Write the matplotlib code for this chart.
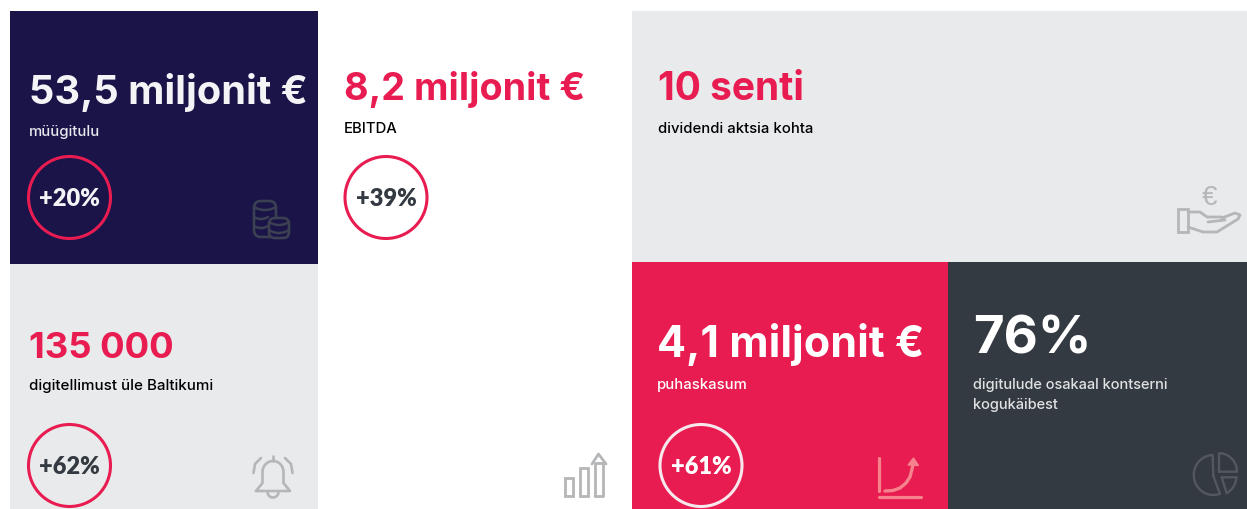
import numpy as np
import matplotlib
matplotlib.use('Agg')
import matplotlib.pyplot as plt
from matplotlib.patches import Rectangle, Circle, FancyBboxPatch

# text and values
headlines = ['53,5 miljonit €', '8,2 miljonit €', '10 senti', '135 000', '4,1 miljonit €', '76%']
captions = ['müügitulu', 'EBITDA', 'dividendi aktsia kohta', 'digitellimust üle Baltikumi', 'puhaskasum',
            'digitulude osakaal kontserni\nkogukäibest']
changes = ['+20%', '+39%', '+62%', '+61%']

NAVY = '#1a1449'
GREY = '#e9eaec'
RED = '#e81c50'
DARK = '#343a41'
INK = '#343a41'

plt.rcParams['font.family'] = ['Inter', 'DejaVu Sans']

fig = plt.figure(figsize=(12.47, 5.09), dpi=100)
ax = fig.add_axes([0, 0, 1, 1])
ax.set_xlim(0, 1247)
ax.set_ylim(509, 0)
ax.axis('off')


def panel(x0, y0, x1, y1, color):
    ax.add_patch(Rectangle((x0, y0), x1 - x0, y1 - y0, fc=color, ec='none', zorder=1))


def big(x, y, s, color, size):
    ax.text(x, y, s, color=color, fontsize=size, fontweight='bold', va='center', ha='left', zorder=3)


def small(x, y, s, color, size=10.7):
    ax.text(x, y, s, color=color, fontsize=size, fontweight='medium', va='center', ha='left',
            linespacing=1.5, zorder=3)


def badge(cx, cy, s, ring, color):
    ax.add_patch(Circle((cx, cy), 41, fc='none', ec=ring, lw=2.2, zorder=3))
    ax.text(cx, cy + 1.5, s, color=color, fontsize=17, fontweight=800, ha='center', va='center',
            family=['Lato', 'DejaVu Sans'], zorder=3)


def line(xs, ys, color, lw=1.7):
    ax.plot(xs, ys, color=color, lw=lw, solid_capstyle='round', solid_joinstyle='round', zorder=4)


def sag(x0, x1, y, color, depth=3):
    # one curved rim of a coin
    u = np.linspace(-1, 1, 20)
    line((x0 + x1) / 2 + (x1 - x0) / 2 * u, y + depth * (1 - u ** 2), color, 1.8)


def coins(color):
    # tall stack and the short one in front of it
    ax.add_patch(FancyBboxPatch((261, 208), 8, 22, boxstyle='round,pad=7,rounding_size=7',
                                fc=NAVY, ec=color, lw=1.9, zorder=3))
    sag(254, 276, 207, color)
    sag(254, 268, 217, color, 2)
    sag(254, 268, 226, color, 2)
    ax.add_patch(FancyBboxPatch((275, 224), 8, 8, boxstyle='round,pad=6,rounding_size=6',
                                fc=NAVY, ec=color, lw=1.9, zorder=4))
    sag(269, 289, 222, color, 3)
    sag(269, 289, 230, color, 3)


def bell(color):
    th = np.linspace(np.pi, 0, 30)
    dome_x = 273 + 10.5 * np.cos(th)
    dome_y = 472 + 11 * -np.sin(th)
    line(np.r_[256, 262.5, dome_x, 283.5, 290, 256],
         np.r_[491, 483, dome_y, 483, 491, 491], color, 1.9)
    line([273, 273], [456, 461], color, 1.9)
    th = np.linspace(0, np.pi, 15)
    line(273 + 5.5 * np.cos(th), 492 + 5.5 * np.sin(th), color, 1.9)
    line([253.5, 255, 261], [473, 464, 458], color, 1.9)
    line([292.5, 291, 285], [473, 464, 458], color, 1.9)


def bars(color):
    ax.add_patch(Rectangle((565, 478), 8, 18, fc='none', ec=color, lw=2.0, zorder=3))
    ax.add_patch(Rectangle((579.5, 468), 8, 28, fc='none', ec=color, lw=2.0, zorder=3))
    line([594.5, 594.5, 602.5, 602.5, 594.5], [496, 463, 463, 496, 496], color, 2.0)
    line([592, 598.5, 606], [464, 454, 464], color, 2.0)


def hand(color):
    ax.text(1210, 198, '€', color=color, fontsize=20, ha='center', va='center',
            family=['Liberation Sans'], zorder=3)
    ax.add_patch(Rectangle((1177.5, 209), 10, 23, fc='none', ec=color, lw=2.0, zorder=3))
    line([1188, 1200, 1207, 1222, 1225, 1208],
         [212, 212, 217, 217, 220, 222], color, 2.0)
    line([1222, 1235, 1240, 1238, 1217, 1203, 1188],
         [218, 213, 215, 219, 232, 232, 227], color, 2.0)


def growth(color):
    line([879, 879], [458, 491], color, 2.3)
    line([879, 921], [497, 497], color, 2.3)
    line([885, 893, 900, 906, 910, 913], [491, 490.5, 488, 483, 477, 465], color, 2.4)
    ax.fill([908, 913.5, 918.5], [465, 458, 465.5], color=color, zorder=4)


def pie(color):
    th = np.radians(np.linspace(-92, -290, 50))
    line(np.r_[1213.3, 1213.3 + 19.5 * np.cos(th), 1213.3],
         np.r_[476, 475 + 20 * np.sin(th), 476], color, 1.7)
    th = np.radians(np.linspace(-90, 0, 20))
    line(np.r_[1219, 1219 + 18 * np.cos(th), 1219], np.r_[471.7, 471.7 + 18.5 * np.sin(th), 471.7], color, 1.7)
    line([1221.7, 1236.7, 1235, 1232, 1226.7, 1221.7], [477.3, 477.3, 484, 489, 493.3, 477.3], color, 1.7)


panel(10, 11, 318, 264, NAVY)
panel(10, 264, 318, 509, GREY)
panel(632, 11, 1247, 262, GREY)
panel(632, 262, 948, 509, RED)
panel(948, 262, 1247, 509, DARK)

big(29, 92, headlines[0], '#f4f4f6', 28.6)
big(344, 89, headlines[1], RED, 27.2)
big(658, 89, headlines[2], RED, 28)
big(29, 348, headlines[3], RED, 26.3)
big(657, 344, headlines[4], 'white', 31)
big(973, 340, headlines[5], 'white', 38)

small(29, 132, captions[0], '#e8e8ee')
small(344, 129, captions[1], 'black')
small(658, 129, captions[2], 'black')
small(29, 386, captions[3], 'black', 10.9)
small(657, 385, captions[4], 'white')
small(973, 395, captions[5], '#dfe1e3', 10.5)

badge(69.5, 197.5, changes[0], RED, '#f4f4f6')
badge(386, 197.5, changes[1], RED, INK)
badge(69.5, 465.5, changes[2], RED, INK)
badge(701, 465.5, changes[3], '#f6e8ec', 'white')

coins('#3b4052')
bell('#b4b6b8')
bars('#b4b6b8')
hand('#b4b6b8')
growth('#f5828c')
pie('#53585e')

fig.savefig('out.png', dpi=100)
